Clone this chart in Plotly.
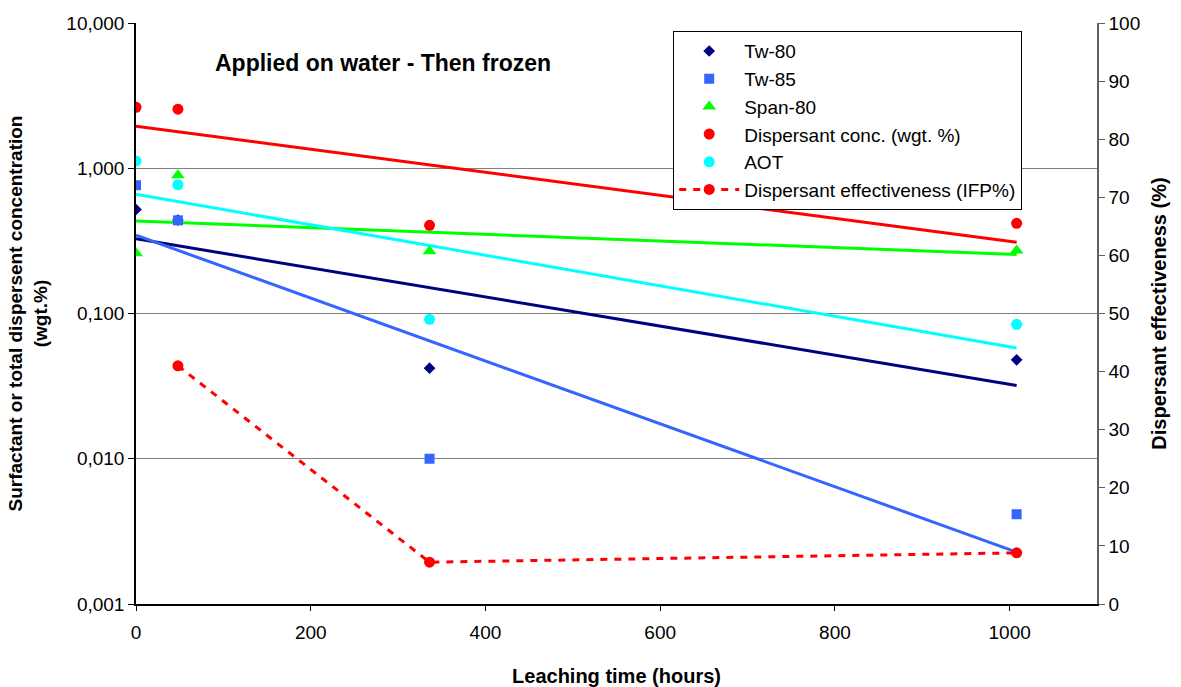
import numpy as np
import plotly.graph_objects as go

# Data
hours = [0, 48, 336, 1008]
tw80 = [0.52, 0.44, 0.042, 0.048]
tw85 = [0.764, 0.438, 0.010, 0.00415]
span80 = [0.26, 0.895, 0.268, 0.272]
disp_conc = [2.63, 2.55, 0.405, 0.418]
aot = [1.12, 0.77, 0.0912, 0.0843]
eff_hours = [48, 336, 1008]
eff_ifp = [41.0, 7.2, 8.8]

left_tickvals = [0.001, 0.01, 0.1, 1, 10]
left_ticktext = ["0,001", "0,010", "0,100", "1,000", "10,000"]

FONT = "Liberation Sans, Arial, sans-serif"

series = [
    ("Tw-80", tw80, "#000080", "diamond", 9),
    ("Tw-85", tw85, "#3366FF", "square", 10),
    ("Span-80", span80, "#00FF00", "triangle-up", 12),
    ("Dispersant conc. (wgt. %)", disp_conc, "#FF0000", "circle", 11),
    ("AOT", aot, "#00FFFF", "circle", 11),
]

fig = go.Figure()

# exponential trendlines (least squares on log10)
x_arr = np.array(hours, dtype=float)
trend_x = np.array([x_arr.min(), x_arr.max()])
for name, vals, color, sym, size in series:
    slope, intercept = np.polyfit(x_arr, np.log10(np.array(vals)), 1)
    trend_y = 10 ** (intercept + slope * trend_x)
    fig.add_trace(go.Scatter(x=trend_x, y=trend_y, mode="lines",
                             line=dict(color=color, width=3),
                             showlegend=False, hoverinfo="skip"))

for name, vals, color, sym, size in series:
    fig.add_trace(go.Scatter(x=hours, y=vals, mode="markers", name=name,
                             marker=dict(color=color, symbol=sym, size=size)))

fig.add_trace(go.Scatter(x=eff_hours, y=eff_ifp, mode="lines+markers",
                         name="Dispersant effectiveness (IFP%)", yaxis="y2",
                         line=dict(color="#FF0000", width=3, dash="7px,7px"),
                         marker=dict(color="#FF0000", symbol="circle", size=11)))

fig.update_layout(
    width=1181, height=687,
    margin=dict(l=136, r=84, t=23, b=83, autoexpand=False),
    paper_bgcolor="white", plot_bgcolor="white",
    font=dict(family=FONT, size=19, color="black"),
    xaxis=dict(
        range=[0, 1100], tickvals=[0, 200, 400, 600, 800, 1000],
        showgrid=False, zeroline=False, automargin=False,
        showline=True, linecolor="black", linewidth=1.5,
        ticks="outside", ticklen=5, tickcolor="black",
        tickfont=dict(size=19), ticklabelstandoff=5,
        title=dict(text="<b>Leaching time (hours)</b>", font=dict(size=20), standoff=28),
    ),
    yaxis=dict(
        type="log", range=[-3, 1],
        tickvals=left_tickvals, ticktext=left_ticktext,
        showgrid=True, gridcolor="#808080", gridwidth=1,
        zeroline=False, automargin=False,
        showline=True, linecolor="black", linewidth=1.5,
        ticks="outside", ticklen=6, tickcolor="black",
        tickfont=dict(size=19),
        title=dict(text="<b>Surfactant or total dispersent concentration<br>(wgt.%)</b>",
                   font=dict(size=19), standoff=14),
    ),
    yaxis2=dict(
        overlaying="y", side="right", range=[0, 100], dtick=10,
        showgrid=False, zeroline=False, automargin=False,
        showline=True, linecolor="#606060", linewidth=1.5,
        ticks="outside", ticklen=6, tickcolor="#606060",
        tickfont=dict(size=19),
        title=dict(text="<b>Dispersant effectiveness (%)</b>", font=dict(size=20), standoff=13),
    ),
    legend=dict(
        x=0.559, y=0.986, xanchor="left", yanchor="top",
        bgcolor="white", bordercolor="black", borderwidth=1,
        font=dict(size=19), tracegroupgap=0, itemwidth=60,
    ),
    annotations=[dict(
        text="<b>Applied on water - Then frozen</b>",
        xref="paper", yref="paper", x=0.08, y=0.931,
        xanchor="left", yanchor="middle", showarrow=False,
        font=dict(size=23, family=FONT, color="black"),
    )],
)

fig.write_html("out.html")
